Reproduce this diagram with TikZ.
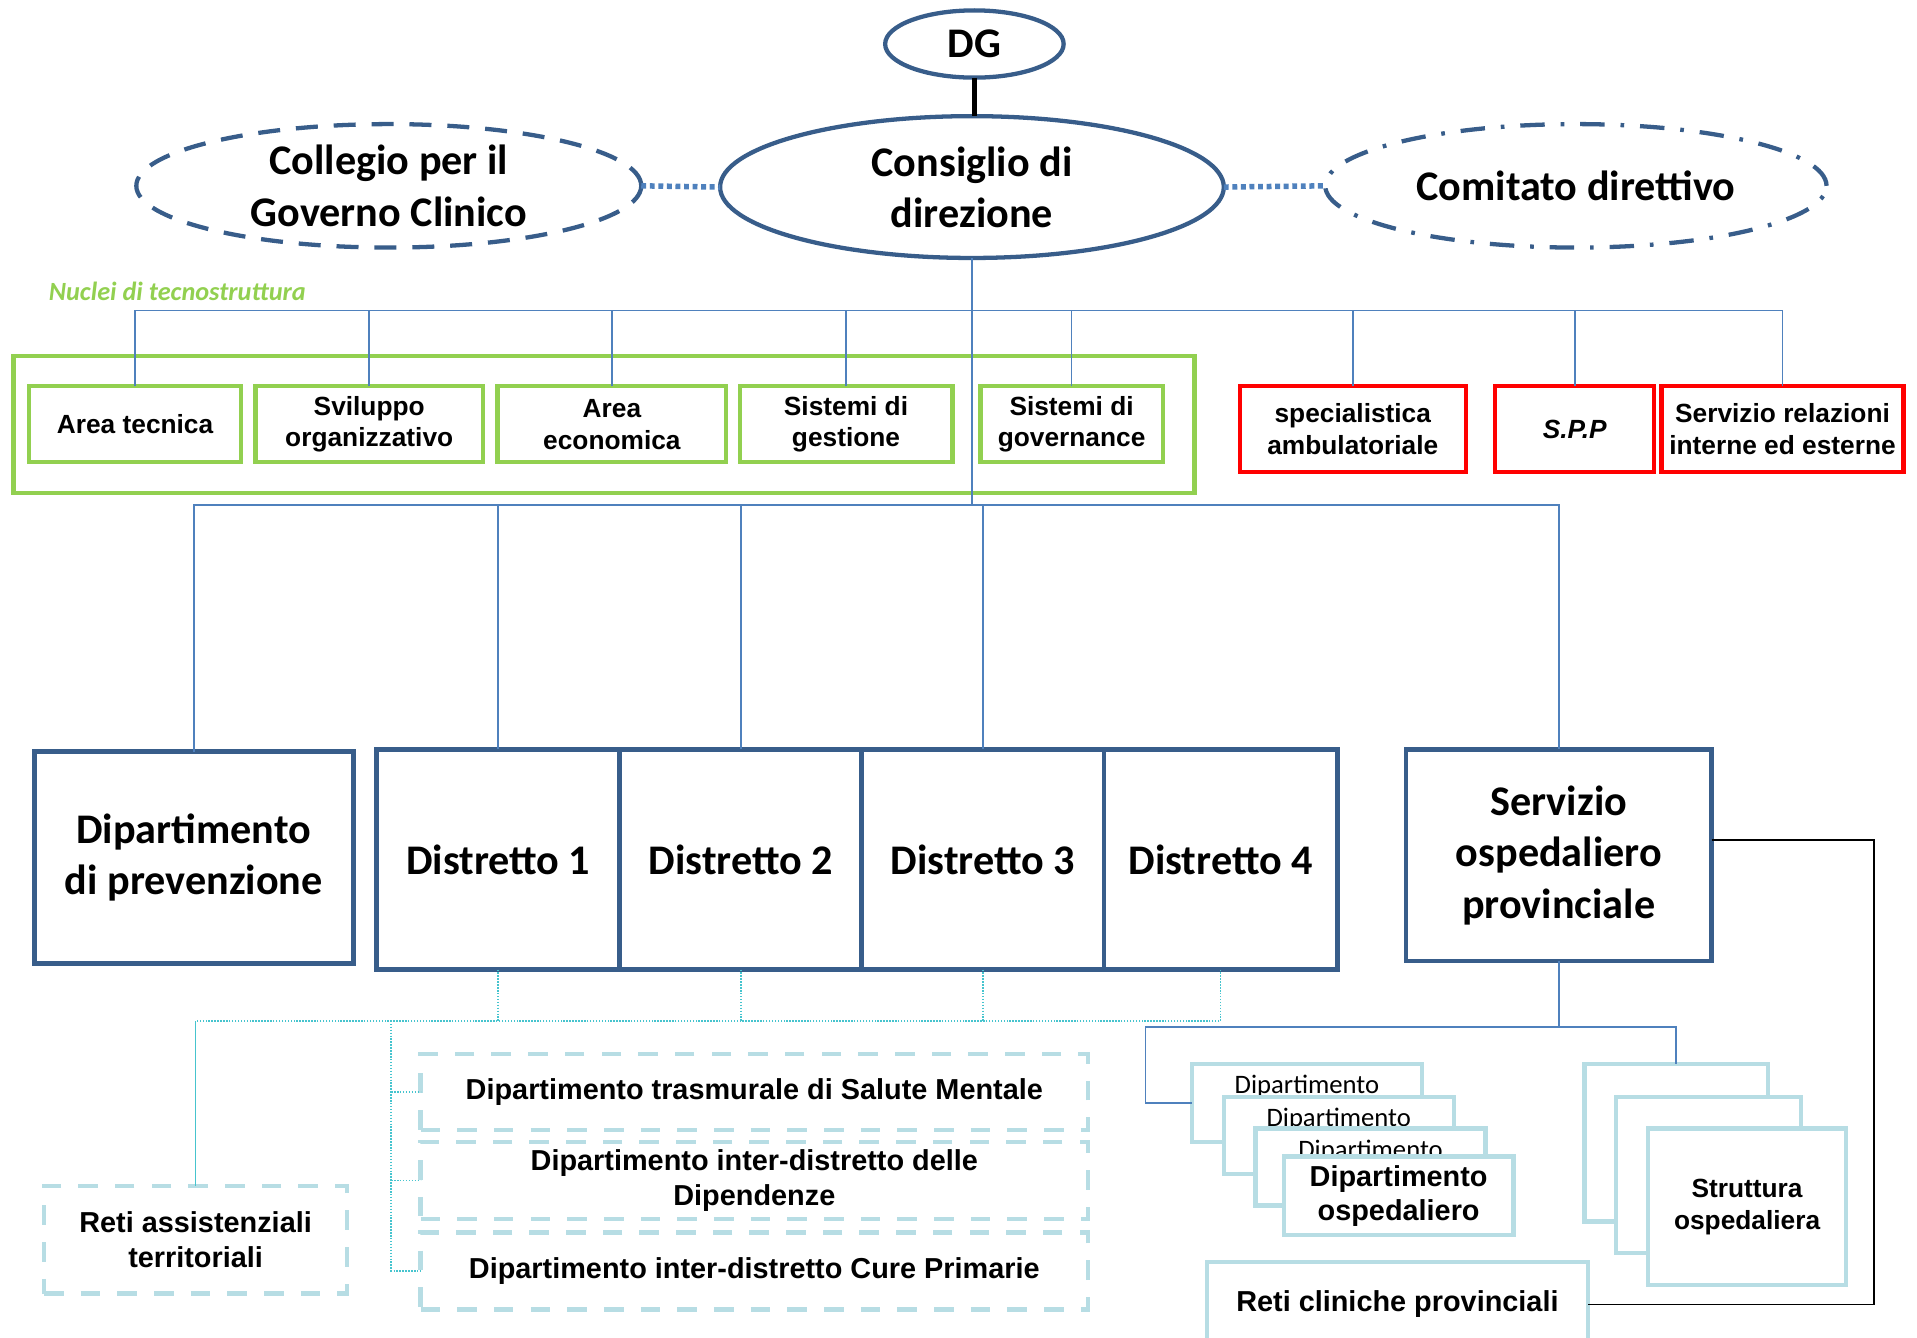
\documentclass[tikz,border=0pt]{standalone}
\usepackage{fontspec}
\setmainfont{Carlito}
\setsansfont{Liberation Sans}
\usetikzlibrary{positioning,shapes.geometric}
\definecolor{dgblue}{RGB}{56,93,138}
\definecolor{lnblue}{RGB}{79,129,189}
\definecolor{nucgreen}{RGB}{146,208,80}
\definecolor{ltcyan}{RGB}{183,221,228}
\definecolor{dotcyan}{RGB}{70,196,206}

\begin{document}
\begin{tikzpicture}[x=1pt,y=-1pt,
  every node/.style={inner sep=0pt,outer sep=0pt,align=center},
  sz/.style 2 args={minimum width=#1pt,minimum height=#2pt},
  bigtxt/.style={font=\fontsize{34.5}{42}\selectfont\bfseries},
  smltxt/.style={font=\fontsize{21.5}{26}\selectfont\sffamily\bfseries},
  midtxt/.style={font=\fontsize{23.6}{29}\selectfont\sffamily\bfseries},
  hidtxt/.style={font=\fontsize{21.8}{26}\selectfont},
  oval/.style={ellipse,draw=dgblue,line width=3.5pt,fill=white,bigtxt},
  nbox/.style={draw=nucgreen,line width=3.5pt,smltxt},
  rbox/.style={draw=red,line width=3.5pt,smltxt},
  dbox/.style={draw=dgblue,line width=4pt,bigtxt},
  cbox/.style={draw=ltcyan,line width=3.5pt,dash pattern=on 16pt off 14pt,midtxt},
  sbox/.style={draw=ltcyan,line width=3.5pt,fill=white},
  link/.style={lnblue,line width=1.4pt},
  dlink/.style={dotcyan,line width=1.2pt,dash pattern=on 1.2pt off 1.2pt}
]
  \useasboundingbox (0,0) rectangle (1568,1094);

  % vertice
  \node[oval,sz={146}{55}] (dg) at (797,36) {DG};
  \node[oval,sz={412}{116}] (cons) at (795,153) {Consiglio di\\direzione};
  \node[oval,sz={413}{101},dash pattern=on 18pt off 13pt] (coll) at (318,152) {Collegio per il\\Governo Clinico};
  \node[oval,sz={410}{101},dash pattern=on 20pt off 13pt on 3pt off 13pt] (comit) at (1289,152) {Comitato direttivo};
  \draw[line width=4pt] (dg.south) -- (dg.south |- cons.north);
  \draw[lnblue,line width=4.5pt,dash pattern=on 4pt off 3pt] (coll.east) -- (cons.west);
  \draw[lnblue,line width=4.5pt,dash pattern=on 4pt off 3pt] (cons.east) -- (comit.west);

  % nuclei di tecnostruttura
  \node[font=\fontsize{21.5}{26}\selectfont\bfseries\itshape,text=nucgreen,anchor=west] (nuclab) at (40,238) {Nuclei di tecnostruttura};
  \node[draw=nucgreen,line width=3.5pt,sz={966}{112}] (nucframe) at (494,347) {};
  \node[nbox,sz={173}{62}] (areatec) at (110.5,347) {Area tecnica};
  \node[nbox,sz={186}{62}] (svil) at (302,347) {Sviluppo\\organizzativo};
  \node[nbox,sz={187}{62}] (areaeco) at (500.5,347) {Area\\economica};
  \node[nbox,sz={174}{62}] (sistges) at (692,347) {Sistemi di\\gestione};
  \node[nbox,sz={149}{62}] (sistgov) at (876.5,347) {Sistemi di\\governance};
  \node[rbox,sz={185}{70}] (spec) at (1106.5,351) {specialistica\\ambulatoriale};
  \node[rbox,sz={130}{70},font=\fontsize{21.5}{26}\selectfont\sffamily\bfseries\itshape] (spp) at (1288,351) {S.P.P};
  \node[rbox,sz={198}{70}] (srie) at (1458,351) {Servizio relazioni\\interne ed esterne};

  \coordinate (bus1) at (795,254);
  \coordinate (bus2) at (795,413);
  \draw[link] (cons.south) -- (bus2);
  \draw[link] (areatec.north) |- (bus1) -| (srie.north);
  \foreach \n in {svil,areaeco,sistges,sistgov,spec,spp}
    \draw[link] (\n.north) -- (\n.north |- bus1);

  % dipartimenti e distretti
  \node[dbox,sz={261}{173}] (prev) at (158.5,701.5) {Dipartimento\\di prevenzione};
  \node[dbox,sz={199}{180}] (d1) at (407.5,703) {Distretto 1};
  \node[dbox,sz={198}{180},right=0pt of d1] (d2) {Distretto 2};
  \node[dbox,sz={198}{180},right=0pt of d2] (d3) {Distretto 3};
  \node[dbox,sz={191}{180},right=0pt of d3] (d4) {Distretto 4};
  \node[dbox,sz={250}{173}] (sop) at (1275,699.5) {Servizio\\ospedaliero\\provinciale};
  \draw[link] (prev.north) |- (bus2) -| (sop.north);
  \foreach \n in {d1,d2,d3}
    \draw[link] (\n.north) -- (\n.north |- bus2);

  % livello territoriale
  \node[cbox,sz={248}{88}] (retiass) at (160,1014) {Reti assistenziali\\territoriali};
  \node[cbox,sz={546}{62}] (dsm) at (617,893) {Dipartimento trasmurale di Salute Mentale};
  \node[cbox,sz={546}{63}] (ddip) at (617,965.5) {Dipartimento inter-distretto delle\\Dipendenze};
  \node[cbox,sz={546}{63}] (dcp) at (617,1039.5) {Dipartimento inter-distretto Cure Primarie};
  \coordinate (cb) at (160,835);
  \coordinate (ct) at (320,835);
  \draw[dlink] (d4.south) |- (cb);
  \foreach \n in {d1,d2,d3}
    \draw[dlink] (\n.south) -- (\n.south |- cb);
  \draw[dotcyan,line width=1.2pt] (cb) -- (retiass.north);
  \draw[dlink] (ct) |- (dcp.west);
  \draw[dlink] (ct |- dsm.west) -- (dsm.west);
  \draw[dlink] (ct |- ddip.west) -- (ddip.west);

  % livello ospedaliero
  \node[sbox,sz={188}{64},hidtxt] (dep1) at (1069,902) {Dipartimento\\ospedaliero};
  \node[sbox,sz={188}{63},hidtxt] (dep2) at (1095,928.5) {Dipartimento\\ospedaliero};
  \node[sbox,sz={188}{63},hidtxt] (dep3) at (1121,954.5) {Dipartimento\\ospedaliero};
  \node[sbox,sz={188}{64},font=\fontsize{23.6}{28}\selectfont\sffamily\bfseries] (dep4) at (1144,978) {Dipartimento\\ospedaliero};
  \node[sbox,sz={150}{129},hidtxt] (st1) at (1371,934.5) {Struttura\\ospedaliera};
  \node[sbox,sz={151}{128},hidtxt] (st2) at (1397.5,961) {Struttura\\ospedaliera};
  \node[sbox,sz={162}{128},smltxt] (st3) at (1429,987) {Struttura\\ospedaliera};
  \node[sbox,sz={312}{70},midtxt] (retic) at (1143,1067) {Reti cliniche provinciali};
  \coordinate (hl) at (937,840);
  \coordinate (bk) at (1533,687);
  \draw[link] (sop.south) |- (hl) |- (dep1.west);
  \draw[link] (sop.south |- hl) -| (st1.north);
  \draw[line width=1.4pt] (sop.east |- bk) -- (bk) |- (retic.east);
\end{tikzpicture}
\end{document}
